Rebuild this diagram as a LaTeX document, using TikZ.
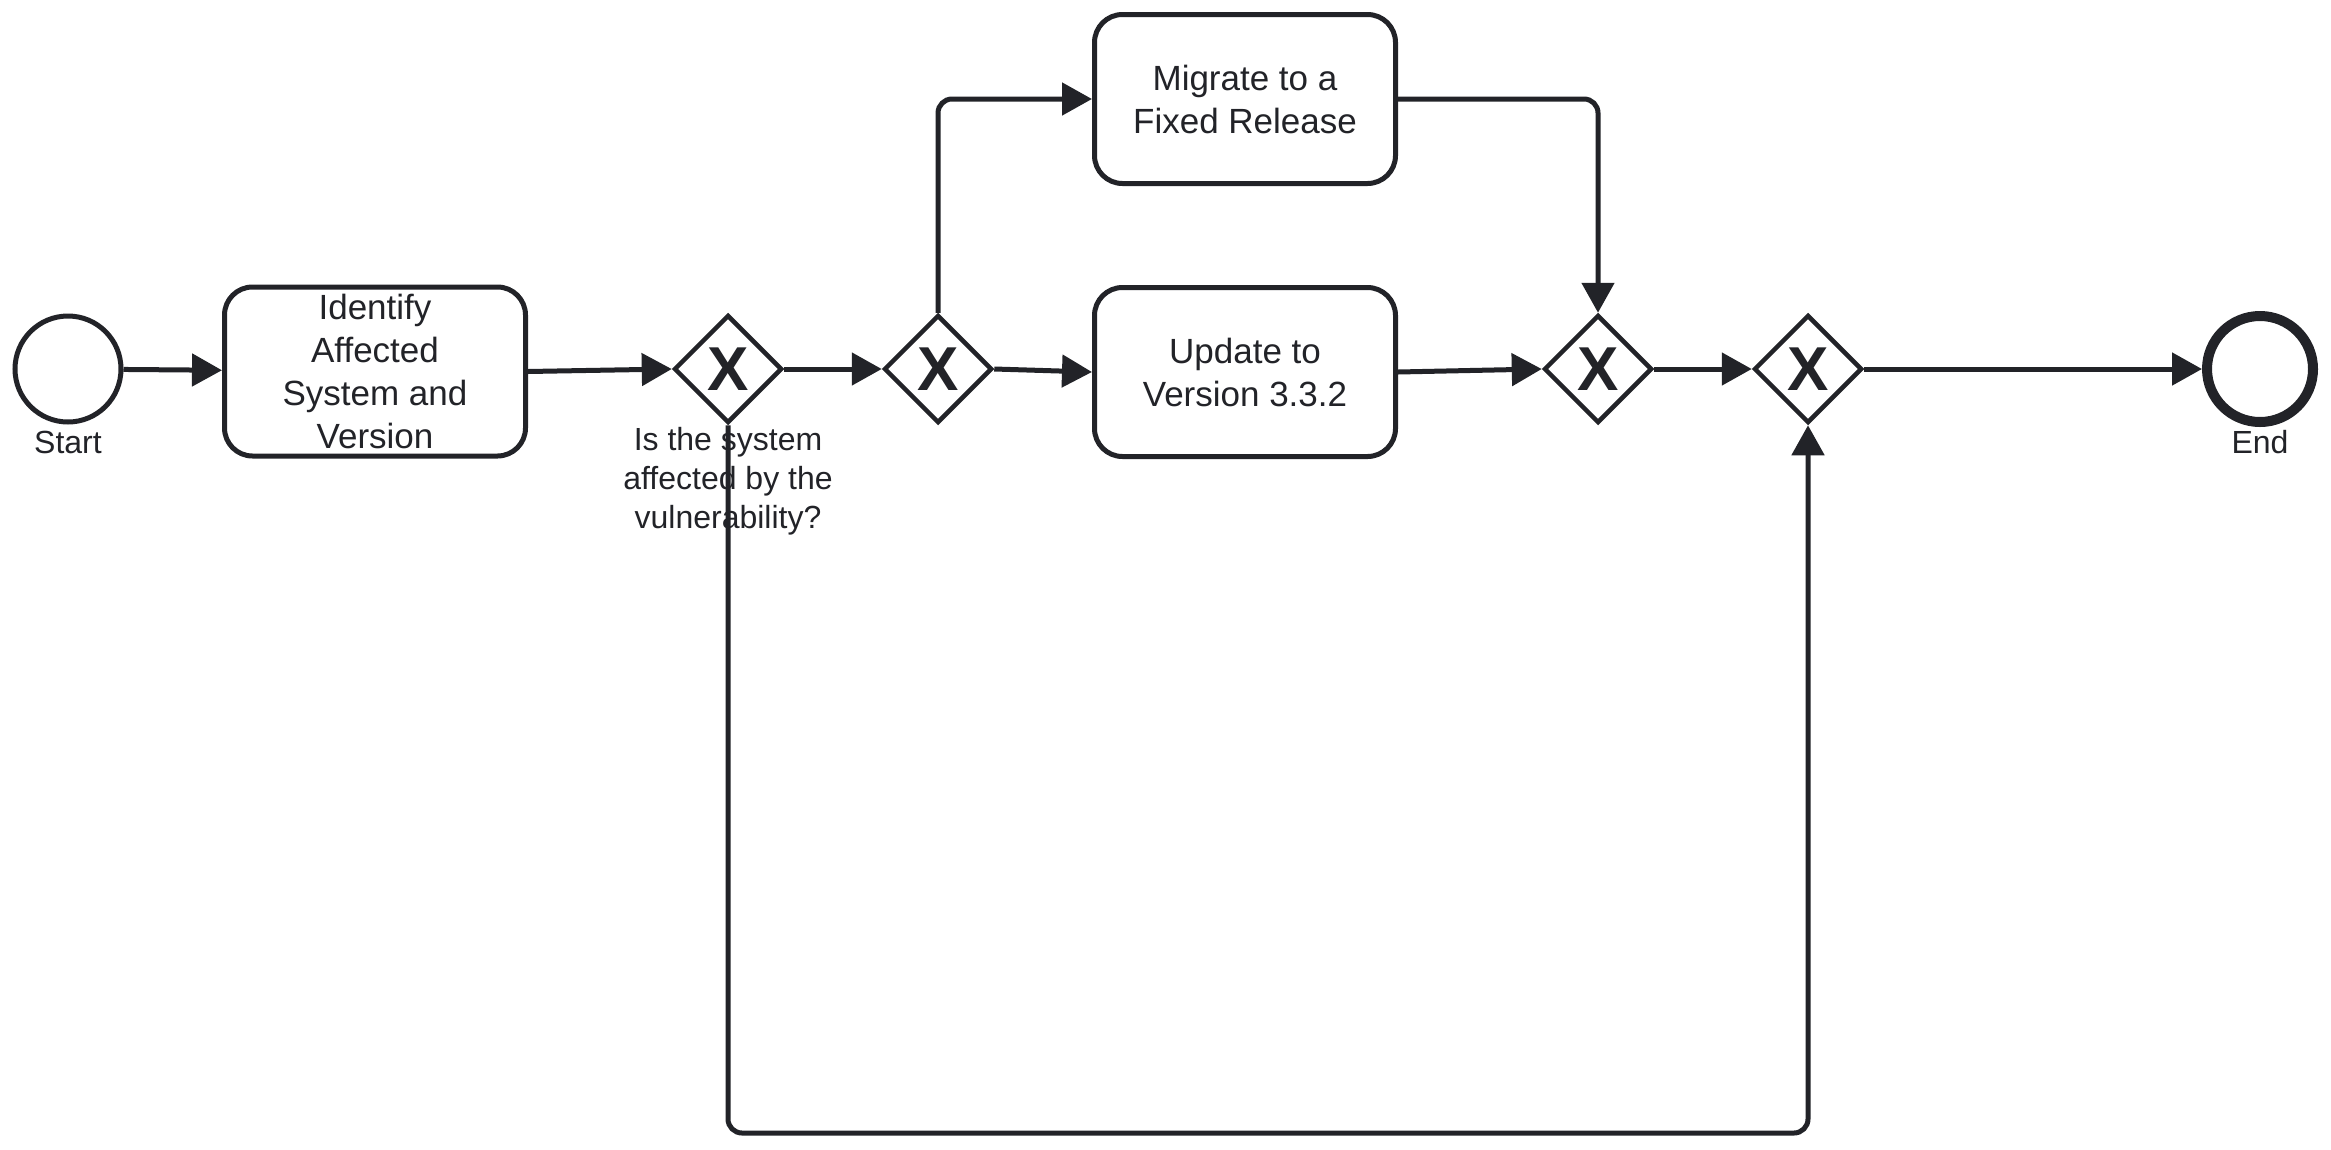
\documentclass[tikz,border=0pt]{standalone}
\usepackage{fontspec}
\setmainfont{Liberation Sans}
\usetikzlibrary{shapes.geometric,arrows.meta}
\definecolor{ink}{HTML}{222328}
\begin{document}
\begin{tikzpicture}[x=1pt,y=-1pt,
  every node/.style={text=ink},
  task/.style={draw=ink,line width=5pt,rounded corners=28pt,fill=white,
    minimum width=301pt,minimum height=169pt,inner sep=0pt,align=center,
    font=\fontsize{35}{43}\selectfont},
  gate/.style={draw=ink,line width=4.5pt,diamond,aspect=1,fill=white,
    minimum width=108pt,minimum height=108pt,inner sep=0pt,
    font=\fontsize{62}{62}\selectfont\bfseries},
  startev/.style={draw=ink,line width=5pt,circle,minimum size=106pt,inner sep=0pt},
  endev/.style={draw=ink,line width=10pt,circle,minimum size=106pt,inner sep=0pt},
  lbl/.style={align=center,inner sep=0pt,font=\fontsize{32}{39}\selectfont},
  flow/.style={draw=ink,line width=5pt,-{Triangle[length=30pt,width=32pt]}}
]
\useasboundingbox (0,0) rectangle (2331,1149);
\node[startev] (start) at (68,369) {};
\node[lbl] (startl) at (68,442) {Start};
\node[task] (id) at (375,371.5) {Identify\\Affected\\System and\\Version};
\node[gate] (g1) at (728,369) {X};
\node[lbl] (g1l) at (728,481) {Is the system\\affected by the\\vulnerability?};
\node[gate] (g2) at (938,369) {X};
\node[task] (mig) at (1245,99) {Migrate to a\\Fixed Release};
\node[task] (upd) at (1245,372) {Update to\\Version 3.3.2};
\node[gate] (g3) at (1598,369) {X};
\node[gate] (g4) at (1808,369) {X};
\node[endev] (end) at (2260,369) {};
\node[lbl] (endl) at (2260,442) {End};
\coordinate (loopc) at (1268,1133);

\draw[flow] (start) -- (id);
\draw[flow] (id.east) -- (g1.west);
\draw[flow] (g1.east) -- (g2.west);
\draw[flow,rounded corners=14pt] (g2.north) |- (mig.west);
\draw[flow] (g2.east) -- (upd.west);
\draw[flow,rounded corners=14pt] (mig.east) -| (g3.north);
\draw[flow] (upd.east) -- (g3.west);
\draw[flow] (g3.east) -- (g4.west);
\draw[flow] (g4.east) -- (end.west);
\draw[flow,rounded corners=14pt] (g1.south) |- (loopc) -| (g4.south);
\end{tikzpicture}
\end{document}
